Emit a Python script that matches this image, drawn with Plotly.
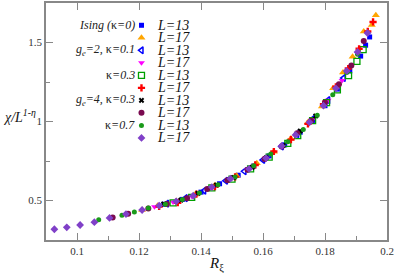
import plotly.graph_objects as go

# ---------------- data ----------------
ising13_x = [0.128, 0.134, 0.140, 0.146, 0.152, 0.157, 0.162, 0.167, 0.172, 0.176, 0.180, 0.184, 0.188, 0.1915, 0.1931, 0.1944]
ising13_y = [0.476, 0.507, 0.553, 0.606, 0.660, 0.718, 0.782, 0.852, 0.932, 1.008, 1.100, 1.205, 1.320, 1.414, 1.483, 1.535]

ising17_x = [0.121, 0.126, 0.132, 0.138, 0.1445, 0.1515, 0.158, 0.1635, 0.169, 0.1745, 0.179, 0.1826, 0.1858, 0.1889, 0.1925, 0.1951, 0.1964]
ising17_y = [0.440, 0.466, 0.497, 0.537, 0.596, 0.657, 0.736, 0.808, 0.893, 0.995, 1.095, 1.210, 1.310, 1.410, 1.570, 1.610, 1.672]

ge2k01_13_x = [0.129, 0.135, 0.141, 0.148, 0.154, 0.160, 0.166, 0.171, 0.176, 0.181, 0.186]
ge2k01_13_y = [0.480, 0.515, 0.562, 0.625, 0.685, 0.757, 0.842, 0.920, 1.015, 1.135, 1.275]

ge2k01_17_x = [0.125, 0.131, 0.137, 0.143, 0.149, 0.155, 0.161, 0.166, 0.171, 0.176, 0.181, 0.1855, 0.1905]
ge2k01_17_y = [0.460, 0.490, 0.527, 0.582, 0.632, 0.695, 0.770, 0.842, 0.922, 1.015, 1.135, 1.260, 1.430]

k03_13_x = [0.131, 0.137, 0.1435, 0.150, 0.156, 0.162, 0.168, 0.1712, 0.176, 0.1805, 0.184, 0.1876, 0.1903, 0.1923]
k03_13_y = [0.485, 0.520, 0.580, 0.635, 0.700, 0.775, 0.862, 0.911, 1.005, 1.120, 1.200, 1.290, 1.380, 1.455]

k03_17_x = [0.1265, 0.1325, 0.1385, 0.1445, 0.151, 0.1575, 0.1635, 0.169, 0.1745, 0.1795, 0.1835, 0.1875, 0.191, 0.1938, 0.1955]
k03_17_y = [0.462, 0.486, 0.540, 0.588, 0.650, 0.725, 0.810, 0.885, 0.985, 1.110, 1.220, 1.335, 1.460, 1.570, 1.630]

ge4k03_13_x = [0.128, 0.1335, 0.139, 0.145, 0.1505, 0.1565, 0.161, 0.1665, 0.172, 0.177]
ge4k03_13_y = [0.478, 0.502, 0.545, 0.598, 0.645, 0.710, 0.770, 0.848, 0.940, 1.035]

ge4k03_17_x = [0.1115, 0.1165, 0.123, 0.129, 0.1355, 0.142, 0.1485, 0.155, 0.1605, 0.166, 0.171, 0.1755, 0.180, 0.1845, 0.1885, 0.1925]
ge4k03_17_y = [0.392, 0.416, 0.450, 0.478, 0.515, 0.572, 0.628, 0.695, 0.762, 0.842, 0.925, 1.005, 1.120, 1.235, 1.355, 1.510]

k07_13_x = [0.107, 0.1145, 0.1185, 0.123, 0.1285, 0.134, 0.1395, 0.1455, 0.151, 0.157, 0.1625, 0.168, 0.173, 0.1775, 0.1825, 0.187, 0.1905]
k07_13_y = [0.378, 0.407, 0.428, 0.452, 0.477, 0.506, 0.548, 0.600, 0.648, 0.720, 0.795, 0.872, 0.950, 1.040, 1.170, 1.310, 1.425]

k07_17_x = [0.0927, 0.0967, 0.101, 0.1056, 0.1105, 0.1158, 0.121, 0.1265, 0.132, 0.1375, 0.1435, 0.1495, 0.1555, 0.161, 0.166, 0.1705, 0.175, 0.1795, 0.1835, 0.187, 0.1905, 0.1937]
k07_17_y = [0.318, 0.330, 0.345, 0.363, 0.390, 0.414, 0.440, 0.468, 0.495, 0.530, 0.585, 0.638, 0.700, 0.768, 0.845, 0.915, 0.995, 1.100, 1.210, 1.320, 1.440, 1.560]

x_ticks = [0.1, 0.12, 0.14, 0.16, 0.18, 0.2]
x_tick_labels = ["0.1", "0.12", "0.14", "0.16", "0.18", "0.2"]
x_minor = [0.09, 0.11, 0.13, 0.15, 0.17, 0.19]
y_ticks = [0.5, 1, 1.5]
y_tick_labels = ["0.5", "1", "1.5"]
y_minor = [0.75, 1.25]

group_labels = ["<i>Ising (</i>κ<i>=0)</i>", "", "<i>g<sub>e</sub>=2, </i>κ<i>=0.1</i>", "",
                "κ<i>=0.3</i>", "", "<i>g<sub>e</sub>=4, </i>κ<i>=0.3</i>", "", "κ<i>=0.7</i>", ""]
size_labels = ["L=13", "L=17"] * 5

# ---------------- styles ----------------
series = [
    (ising13_x, ising13_y, dict(symbol="square", color="#0000ff", size=5)),
    (ising17_x, ising17_y, dict(symbol="triangle-up", color="#ffa500", size=7)),
    (ge2k01_13_x, ge2k01_13_y, dict(symbol="triangle-left-open", color="#0000ff", size=6, line=dict(width=1.5))),
    (ge2k01_17_x, ge2k01_17_y, dict(symbol="triangle-down", color="#ff00ff", size=6)),
    (k03_13_x, k03_13_y, dict(symbol="square-open", color="#00a000", size=6, line=dict(width=1.3))),
    (k03_17_x, k03_17_y, dict(symbol="cross", color="#ff0000", size=6)),
    (ge4k03_13_x, ge4k03_13_y, dict(symbol="x", color="#000000", size=5)),
    (ge4k03_17_x, ge4k03_17_y, dict(symbol="circle", color="#7a0a50", size=6)),
    (k07_13_x, k07_13_y, dict(symbol="circle", color="#1a9a1a", size=5)),
    (k07_17_x, k07_17_y, dict(symbol="diamond", color="#8040c8", size=6)),
]

FRAME = "#888888"
SERIF = "Liberation Serif"

fig = go.Figure()
for xs, ys, mk in series:
    fig.add_trace(go.Scatter(x=xs, y=ys, mode="markers", marker=mk,
                             showlegend=False, hoverinfo="skip"))

# ---------------- legend (layout) ----------------
leg_y0 = 1.609
leg_dy = 0.0792
leg_mx = 0.1208
leg_tx = 0.1192
leg_lx = 0.1251
for i, (_, _, mk) in enumerate(series):
    yy = leg_y0 - i * leg_dy
    fig.add_trace(go.Scatter(x=[leg_mx], y=[yy], mode="markers", marker=mk,
                             showlegend=False, hoverinfo="skip"))
    if group_labels[i]:
        fig.add_annotation(x=leg_tx, y=yy, xref="x", yref="y", text=group_labels[i],
                           showarrow=False, xanchor="right", yanchor="middle",
                           font=dict(family=SERIF, size=12, color="#222"))
    fig.add_annotation(x=leg_lx, y=yy, xref="x", yref="y", text="<i>" + size_labels[i] + "</i>",
                       showarrow=False, xanchor="left", yanchor="middle",
                       font=dict(family=SERIF, size=14, color="#111"))

# axis titles
fig.add_annotation(x=-0.131, y=1.035, xref="paper", yref="y",
                   text="<i>χ/L</i><sup><i>1-η</i></sup>", showarrow=False,
                   xanchor="left", yanchor="middle",
                   font=dict(family=SERIF, size=14, color="#111"))
fig.add_annotation(x=0.5, y=-0.055, xref="paper", yref="paper",
                   text="<i>R</i><sub>ξ</sub>", showarrow=False,
                   xanchor="center", yanchor="top",
                   font=dict(family=SERIF, size=15, color="#111"))

# invisible helper trace to activate the mirrored tick axes
fig.add_trace(go.Scatter(x=[x_ticks[0]], y=[y_ticks[0]], xaxis="x2", yaxis="y2", mode="markers",
                         marker=dict(opacity=0), showlegend=False, hoverinfo="skip"))

tickfont = dict(family=SERIF, size=11, color="#333")
fig.update_layout(
    xaxis=dict(range=[0.09, 0.2], showline=True, linecolor=FRAME, linewidth=1.5, mirror=True,
               ticks="inside", ticklen=7, tickcolor=FRAME, tickwidth=1, showgrid=False, zeroline=False,
               tickvals=x_ticks, ticktext=x_tick_labels, tickfont=tickfont, ticklabeloverflow="allow",
               minor=dict(tickvals=x_minor, ticks="inside", ticklen=4, tickcolor=FRAME)),
    xaxis2=dict(range=[0.09, 0.2], overlaying="x", side="top", showline=False, mirror="ticks",
                ticks="inside", ticklen=7, tickcolor=FRAME, tickwidth=1, showgrid=False, zeroline=False,
                tickvals=x_ticks, showticklabels=False),
    yaxis=dict(range=[0.25, 1.75], showline=True, linecolor=FRAME, linewidth=1.5, mirror=True,
               ticks="inside", ticklen=7, tickcolor=FRAME, tickwidth=1, showgrid=False, zeroline=False,
               tickvals=y_ticks, ticktext=y_tick_labels, tickfont=tickfont,
               minor=dict(tickvals=y_minor, ticks="inside", ticklen=4, tickcolor=FRAME)),
    yaxis2=dict(range=[0.25, 1.75], overlaying="y", side="right", showline=False, mirror="ticks",
                ticks="inside", ticklen=7, tickcolor=FRAME, tickwidth=1, showgrid=False, zeroline=False,
                tickvals=y_ticks, showticklabels=False),
    width=395, height=273, margin=dict(l=46, r=6, t=1, b=33),
    paper_bgcolor="white", plot_bgcolor="white", showlegend=False)

fig.write_html("out.html", config=dict(displayModeBar=False),
               post_script="document.body.style.margin='0px';")
